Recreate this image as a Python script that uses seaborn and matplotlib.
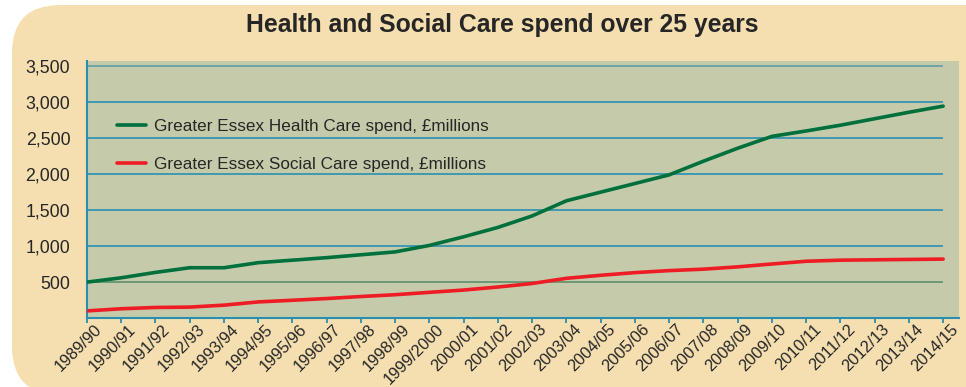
import matplotlib
matplotlib.use("Agg")
import matplotlib.pyplot as plt
import matplotlib.transforms as mtransforms
from matplotlib.patches import FancyBboxPatch
import seaborn as sns
import pandas as pd

years = ["1989/90", "1990/91", "1991/92", "1992/93", "1993/94", "1994/95", "1995/96",
         "1996/97", "1997/98", "1998/99", "1999/2000", "2000/01", "2001/02", "2002/03",
         "2003/04", "2004/05", "2005/06", "2006/07", "2007/08", "2008/09", "2009/10",
         "2010/11", "2011/12", "2012/13", "2013/14", "2014/15"]
health = [500, 560, 635, 700, 700, 770, 805, 840, 880, 920, 1010, 1130, 1260, 1420,
          1630, 1750, 1870, 1990, 2180, 2360, 2525, 2600, 2680, 2770, 2860, 2945]
social = [100, 130, 148, 153, 180, 225, 248, 272, 300, 325, 358, 390, 432, 481,
          553, 595, 632, 660, 680, 712, 752, 790, 805, 810, 815, 820]
series_names = ["Greater Essex Health Care spend, \u00a3millions",
                "Greater Essex Social Care spend, \u00a3millions"]
yticks = [500, 1000, 1500, 2000, 2500, 3000, 3500]
title = "Health and Social Care spend over 25 years"

df = pd.DataFrame({
    "year": years * 2,
    "value": health + social,
    "series": [series_names[0]] * len(years) + [series_names[1]] * len(years),
})

sns.set_style("white")
plt.rcParams["font.family"] = ["Liberation Sans", "DejaVu Sans"]

fig = plt.figure(figsize=(9.66, 3.87), dpi=100)
fig.patch.set_facecolor("white")
bg = FancyBboxPatch((0.0124, -0.02), 1.05, 1.007, boxstyle="round,pad=0,rounding_size=0.05",
                    transform=fig.transFigure, facecolor="#F5DFB0", edgecolor="none",
                    mutation_aspect=966 / 387, zorder=-10)
fig.patches.append(bg)

ax = fig.add_axes([0.090, 0.178, 0.903, 0.664])
ax.set_facecolor("#C5CBAA")

teal = "#2A8FAE"
for v in yticks:
    col = "#5C8F6C" if v == 500 else ("#5F9EA8" if v == 3500 else teal)
    ax.hlines(v, 0, len(years) - 1, colors=col, linewidth=1.2, zorder=1)

sns.lineplot(data=df, x="year", y="value", hue="series",
             palette={series_names[0]: "#00703C", series_names[1]: "#EE1C25"},
             linewidth=2.6, ax=ax, zorder=3, sort=False)

ax.set_xlim(0, 25.47)
ax.set_ylim(0, 3570)
ax.set_yticks(yticks)
ax.set_yticklabels([f"{v:,}" for v in yticks], fontsize=12.8)
ax.set_xticks(range(len(years)))
ax.set_xticklabels(years, rotation=45, ha="right", rotation_mode="anchor", fontsize=11.8)
ax.tick_params(axis="x", length=3.6, color=teal, width=1.3, pad=-1.0, bottom=True)
ax.tick_params(axis="y", length=0, pad=12)
offset = mtransforms.ScaledTranslation(7 / 100, 0, fig.dpi_scale_trans)
for lab in ax.get_xticklabels():
    lab.set_transform(lab.get_transform() + offset)
ax.set_xlabel("")
ax.set_ylabel("")

for s in ["top", "right"]:
    ax.spines[s].set_visible(False)
ax.spines["left"].set_color(teal)
ax.spines["bottom"].set_color(teal)
ax.spines["left"].set_linewidth(1.5)
ax.spines["bottom"].set_linewidth(1.5)

leg = ax.legend(loc="upper left", bbox_to_anchor=(0.027, 0.80), frameon=False,
                fontsize=12.3, handlelength=1.7, labelspacing=1.3, handletextpad=0.45,
                borderaxespad=0.0)
for line in leg.get_lines():
    line.set_linewidth(2.6)

fig.text(0.52, 0.935, title, ha="center", va="center", fontsize=17.8, fontweight="bold")

fig.savefig("out.png", dpi=100)
